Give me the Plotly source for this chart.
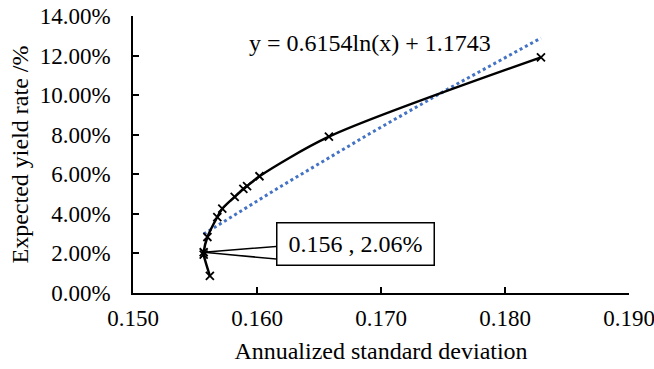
import numpy as np
import plotly.graph_objects as go

# Efficient frontier points (annualized std dev, expected yield)
std_dev = [0.1562, 0.1557, 0.1557, 0.1560, 0.1568, 0.1572, 0.1582, 0.1589, 0.1592, 0.1602, 0.1658, 0.1829]
exp_yield = [0.0086, 0.0194, 0.0206, 0.0283, 0.0384, 0.0426, 0.0486, 0.0526, 0.0540, 0.0590, 0.0790, 0.1191]

# Logarithmic trendline coefficients (as shown in chart)
trend_a = 0.6154
trend_b = 1.1743

x_ticks = [0.150, 0.160, 0.170, 0.180, 0.190]
y_ticks = [0.0, 0.02, 0.04, 0.06, 0.08, 0.10, 0.12, 0.14]

min_pt_x = 0.1557
min_pt_y = 0.0206
min_pt_label = "0.156 , 2.06%"

FONT = "Liberation Serif"

tx = np.linspace(min(std_dev), max(std_dev), 60)
ty = trend_a * np.log(tx) + trend_b

fig = go.Figure()
fig.add_trace(go.Scatter(
    x=tx, y=ty, mode="lines",
    line=dict(color="#4472C4", width=3, dash="dot"),
    hoverinfo="skip", showlegend=False))
fig.add_trace(go.Scatter(
    x=std_dev, y=exp_yield, mode="lines+markers",
    line=dict(color="black", width=2.5, shape="spline", smoothing=0.8),
    marker=dict(symbol="x-thin", size=8, line=dict(color="black", width=1.8)),
    showlegend=False))

# callout wedge
fig.add_shape(type="path", xref="x", yref="y",
              xsizemode="pixel", ysizemode="pixel",
              xanchor=min_pt_x, yanchor=min_pt_y,
              path="M 0 0 L 75 6 L 75 -7 Z",
              fillcolor="white", line=dict(color="black", width=1.5))

fig.add_annotation(x=min_pt_x, y=min_pt_y, xref="x", yref="y",
                   xanchor="center", yanchor="middle",
                   text=min_pt_label, showarrow=False,
                   xshift=152, yshift=8,
                   width=154, height=39,
                   bgcolor="white", bordercolor="black", borderwidth=1.5,
                   font=dict(family=FONT, size=24, color="black"))

fig.add_annotation(x=0.478, y=0.903, xref="paper", yref="paper",
                   xanchor="center", yanchor="middle",
                   text="y = 0.6154ln(x) + 1.1743", showarrow=False,
                   font=dict(family=FONT, size=24, color="black"))

fig.update_layout(
    width=654, height=369,
    margin=dict(l=133, r=25, t=16, b=76, autoexpand=False),
    paper_bgcolor="white", plot_bgcolor="white",
    font=dict(family=FONT, size=23, color="black"),
)
fig.update_xaxes(range=[0.15, 0.19], tickvals=x_ticks, tickformat=".3f",
                 automargin=False, ticklabeloverflow="allow",
                 showgrid=False, zeroline=False, showline=True,
                 linecolor="black", linewidth=1.5,
                 ticks="inside", ticklen=6, tickwidth=1.5, tickcolor="black",
                 ticklabelstandoff=4,
                 tickfont=dict(family=FONT, size=23, color="black"),
                 title=dict(text="Annualized standard deviation", standoff=12,
                            font=dict(family=FONT, size=24, color="black")))
fig.update_yaxes(range=[0, 0.14], tickvals=y_ticks, tickformat=".2%",
                 automargin=False, ticklabeloverflow="allow",
                 showgrid=False, zeroline=False, showline=True,
                 linecolor="black", linewidth=1.5,
                 ticks="inside", ticklen=6, tickwidth=1.5, tickcolor="black",
                 ticklabelstandoff=16,
                 tickfont=dict(family=FONT, size=23, color="black"),
                 title=dict(text="Expected yield rate /%", standoff=4,
                            font=dict(family=FONT, size=24, color="black")))

fig.write_html("out.html", config={"displayModeBar": False},
               post_script="document.body.style.margin='0';")
